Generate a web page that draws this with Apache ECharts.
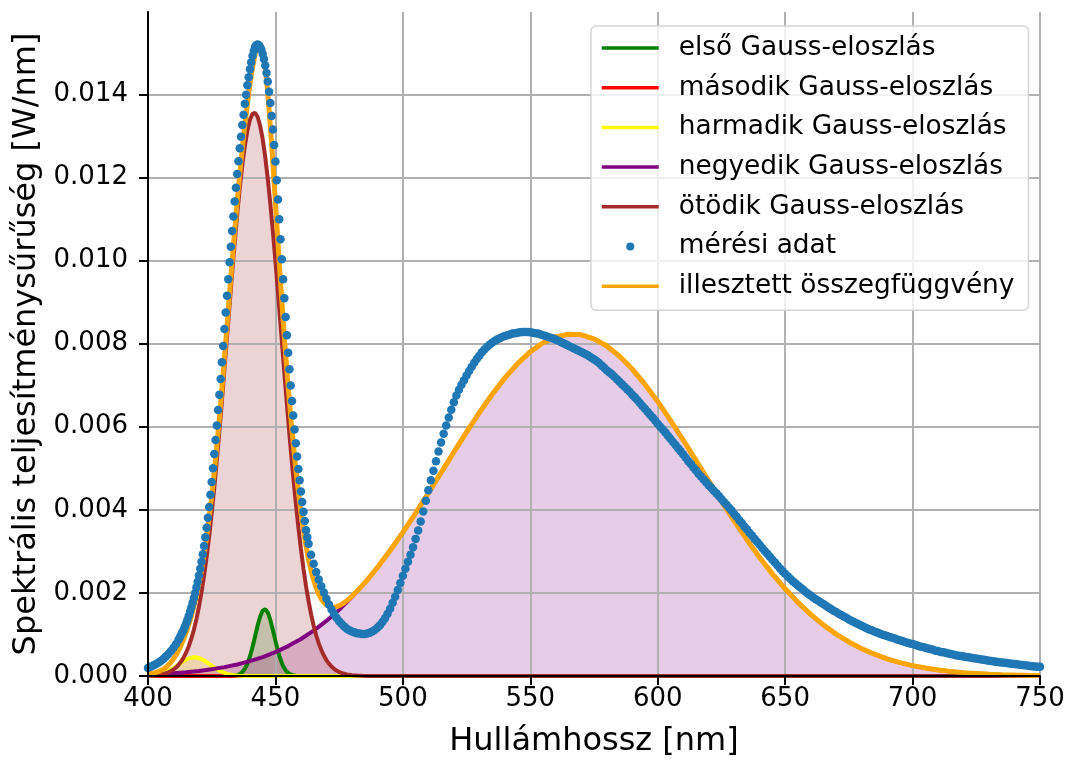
<!DOCTYPE html>
<html><head><meta charset="utf-8">
<script src="https://cdn.jsdelivr.net/npm/echarts@6/dist/echarts.min.js"></script>
<style>html,body{margin:0;padding:0;background:#fff}#c{width:1070px;height:762px}</style>
</head><body><div id="c"></div>
<script>
const yTicks = [0, 0.002, 0.004, 0.006, 0.008, 0.010, 0.012, 0.014];
const seriesNames = ['első Gauss-eloszlás','második Gauss-eloszlás','harmadik Gauss-eloszlás','negyedik Gauss-eloszlás','ötödik Gauss-eloszlás','mérési adat','illesztett összegfüggvény'];

const gauss1 = [[400,0],[432,0.0000015],[433,0.000004],[434,0.00001],[435,0.0000227],[436,0.0000482],[437,0.0000952],[438,0.0001745],[439,0.0002974],[440,0.000471],[441,0.000694],[442,0.00095],[443,0.001209],[444,0.00143],[445,0.001573],[446,0.001608],[447,0.001528],[448,0.001349],[449,0.001108],[450,0.000845],[451,0.0006],[452,0.000395],[453,0.000243],[454,0.000138],[455,0.0000732],[456,0.000036],[457,0.0000165],[458,0.000007],[460,0.000001],[750,0]];

const gauss2 = [[400,0],[750,0]];

const gauss3 = [[400,0.0000061],[401,0.0000096],[402,0.0000148],[403,0.0000223],[404,0.0000327],[405,0.0000467],[406,0.000065],[407,0.0000881],[408,0.0001163],[409,0.0001497],[410,0.0001877],[411,0.0002293],[412,0.000273],[413,0.0003166],[414,0.0003578],[415,0.0003939],[416,0.0004226],[417,0.0004417],[418,0.0004498],[419,0.0004463],[420,0.0004314],[421,0.0004064],[422,0.000373],[423,0.0003335],[424,0.0002906],[425,0.0002466],[426,0.000204],[427,0.0001644],[428,0.0001291],[429,0.0000987],[430,0.0000736],[431,0.0000535],[432,0.0000378],[433,0.0000261],[434,0.0000175],[435,0.0000115],[436,0.0000073],[438,0.0000027],[440,0.0000009],[445,0],[750,0]];

const gauss4 = [[400,0.0000359],[405,0.0000495],[410,0.0000676],[415,0.0000914],[420,0.0001225],[425,0.0001624],[430,0.0002132],[435,0.0002774],[440,0.0003572],[445,0.0004556],[450,0.000575],[455,0.0007197],[460,0.0008905],[465,0.0010922],[470,0.0013258],[475,0.001595],[480,0.0018978],[485,0.0022386],[490,0.002613],[495,0.00302],[500,0.003458],[505,0.003921],[510,0.004401],[515,0.004893],[520,0.005387],[525,0.005871],[530,0.006338],[535,0.006775],[540,0.007172],[545,0.007517],[550,0.007802],[555,0.008019],[560,0.008162],[565,0.008226],[570,0.00821],[575,0.008114],[580,0.007941],[585,0.007696],[590,0.007386],[595,0.007018],[600,0.006605],[605,0.006154],[610,0.005679],[615,0.005189],[620,0.004695],[625,0.004207],[630,0.003733],[635,0.00328],[640,0.002853],[645,0.002458],[650,0.002098],[655,0.001772],[660,0.001482],[665,0.001229],[670,0.001008],[675,0.000819],[680,0.000658],[685,0.000525],[690,0.000414],[695,0.000323],[700,0.00025],[705,0.000191],[710,0.000145],[715,0.000109],[720,0.000081],[725,0.00006],[730,0.000044],[735,0.000031],[740,0.000022],[745,0.000016],[750,0.000011]];

const gauss5 = [[400,0.0000059],[401,0.0000085],[402,0.0000122],[403,0.0000173],[404,0.0000243],[405,0.0000338],[406,0.0000467],[407,0.0000638],[408,0.0000866],[409,0.0001163],[410,0.0001549],[411,0.0002045],[412,0.0002674],[413,0.0003469],[414,0.000446],[415,0.000568],[416,0.000717],[417,0.000898],[418,0.001113],[419,0.001369],[420,0.001668],[421,0.002015],[422,0.002411],[423,0.00286],[424,0.003364],[425,0.00392],[426,0.004528],[427,0.005183],[428,0.005881],[429,0.006615],[430,0.007373],[431,0.008146],[432,0.008921],[433,0.009682],[434,0.010415],[435,0.011104],[436,0.011735],[437,0.012291],[438,0.012759],[439,0.013127],[440,0.013387],[441,0.01353],[442,0.013555],[443,0.013458],[444,0.013244],[445,0.012919],[446,0.012489],[447,0.011967],[448,0.011364],[449,0.010696],[450,0.009979],[451,0.009228],[452,0.008456],[453,0.007682],[454,0.006916],[455,0.006171],[456,0.005458],[457,0.004784],[458,0.004156],[459,0.00358],[460,0.003055],[461,0.002585],[462,0.002167],[463,0.001801],[464,0.001483],[465,0.001211],[466,0.000979],[467,0.000785],[468,0.000625],[469,0.000492],[470,0.000384],[471,0.000297],[472,0.000228],[473,0.000173],[474,0.000131],[475,0.0000975],[476,0.0000722],[477,0.0000529],[478,0.0000385],[479,0.0000277],[480,0.0000198],[482,0.0000099],[484,0.0000047],[486,0.0000022],[490,0.0000005],[750,0]];

const measured = [[400,0.00019],[401,0.00022],[402,0.00025],[403,0.00028],[404,0.00032],[405,0.00036],[406,0.00041],[407,0.00047],[408,0.00053],[409,0.0006],[410,0.00068],[411,0.00077],[412,0.00087],[412.5,0.00093],[413,0.00099],[413.5,0.00105],[414,0.00112],[414.5,0.00119],[415,0.00127],[415.5,0.00136],[416,0.00145],[416.5,0.00155],[417,0.00165],[417.5,0.00176],[418,0.00188],[418.5,0.002],[419,0.00213],[419.5,0.00227],[420,0.00242],[420.5,0.00258],[421,0.00275],[421.5,0.00293],[422,0.00313],[422.5,0.00334],[423,0.00357],[423.5,0.00381],[424,0.00407],[424.5,0.00436],[425,0.00467],[425.5,0.005],[426,0.00534],[426.5,0.00568],[427,0.00603],[427.5,0.0064],[428,0.00677],[428.5,0.00715],[429,0.00755],[429.5,0.00794],[430,0.00835],[430.5,0.00875],[431,0.00915],[431.5,0.00955],[432,0.00996],[432.5,0.01033],[433,0.01071],[433.5,0.01106],[434,0.01142],[434.5,0.01175],[435,0.01208],[435.5,0.01239],[436,0.0127],[436.5,0.01298],[437,0.01326],[437.5,0.01351],[438,0.01377],[438.5,0.01399],[439,0.01422],[439.5,0.01441],[440,0.0146],[440.5,0.01477],[441,0.01492],[441.5,0.01504],[442,0.01513],[442.5,0.01518],[443,0.0152],[443.5,0.01518],[444,0.01514],[444.5,0.01507],[445,0.01497],[445.5,0.01485],[446,0.01469],[446.5,0.01451],[447,0.01431],[447.5,0.01406],[448,0.01379],[448.5,0.01348],[449,0.01315],[449.5,0.01278],[450,0.01238],[450.5,0.01193],[451,0.01147],[451.5,0.01099],[452,0.01051],[452.5,0.01003],[453,0.00955],[453.5,0.00909],[454,0.00864],[454.5,0.0082],[455,0.00778],[455.5,0.00738],[456,0.00699],[456.5,0.00662],[457,0.00627],[457.5,0.00593],[458,0.0056],[458.5,0.00528],[459,0.00498],[459.5,0.00471],[460,0.00444],[460.5,0.00419],[461,0.00395],[461.5,0.00373],[462,0.00351],[462.5,0.00334],[463,0.00318],[464,0.00292],[465,0.0027],[466,0.0025],[467,0.00232],[468,0.00216],[469,0.00201],[470,0.00186],[471,0.00172],[472,0.0016],[473,0.00149],[474,0.0014],[475,0.00132],[476,0.00125],[477,0.00119],[478,0.00114],[479,0.0011],[480,0.00107],[481,0.00105],[482,0.00103],[483,0.00102],[484,0.00101],[485,0.00101],[486,0.00102],[487,0.00104],[488,0.00107],[489,0.00111],[490,0.00116],[491,0.00122],[492,0.0013],[493,0.00139],[494,0.0015],[495,0.00162],[496,0.00176],[497,0.00191],[498,0.00207],[499,0.00224],[500,0.00241],[501,0.00258],[502,0.00275],[503,0.00292],[504,0.0031],[505,0.0033],[506,0.0035],[507,0.00372],[508,0.00396],[509,0.00422],[510,0.00447],[511,0.00471],[512,0.00494],[513,0.00517],[514,0.0054],[515,0.00562],[516,0.00583],[517,0.00603],[518,0.00622],[519,0.00641],[520,0.00659],[521,0.00675],[522,0.00689],[523,0.00701],[524,0.00712],[525,0.00723],[526,0.00734],[527,0.00744],[528,0.00754],[529,0.00763],[530,0.00771],[531,0.00779],[532,0.00786],[533,0.00792],[534,0.00797],[535,0.00802],[536,0.00806],[537,0.0081],[538,0.00813],[539,0.00816],[540,0.00818],[541,0.0082],[542,0.00822],[543,0.00824],[544,0.00825],[545,0.00826],[546,0.00827],[547,0.00828],[548,0.00828],[549,0.00828],[550,0.00827],[551,0.00826],[552,0.00825],[553,0.00824],[554,0.00822],[555,0.0082],[556,0.00818],[557,0.00816],[558,0.00814],[559,0.00812],[560,0.00809],[561,0.00807],[562,0.00804],[563,0.00801],[564,0.00798],[565,0.00795],[566,0.00792],[567,0.00789],[568,0.00786],[569,0.00783],[570,0.0078],[571,0.00777],[572,0.00774],[573,0.0077],[574,0.00766],[575,0.00762],[576,0.00758],[577,0.00753],[578,0.00747],[579,0.00742],[580,0.00736],[581,0.00731],[582,0.00726],[583,0.0072],[584,0.00714],[585,0.00708],[586,0.00702],[587,0.00696],[588,0.0069],[589,0.00684],[590,0.00677],[591,0.00671],[592,0.00664],[593,0.00657],[594,0.0065],[595,0.00643],[596,0.00636],[597,0.00629],[598,0.00622],[599,0.00615],[600,0.00607],[601,0.006],[602,0.00593],[603,0.00586],[604,0.00578],[605,0.00571],[606,0.00563],[607,0.00556],[608,0.00548],[609,0.00541],[610,0.00533],[611,0.00525],[612,0.00517],[613,0.0051],[614,0.00502],[615,0.00495],[616,0.00487],[617,0.0048],[618,0.00473],[619,0.00466],[620,0.00459],[621,0.00453],[622,0.00446],[623,0.0044],[624,0.00433],[625,0.00426],[626,0.00419],[627,0.00412],[628,0.00405],[629,0.00398],[630,0.0039],[631,0.00383],[632,0.00375],[633,0.00368],[634,0.0036],[635,0.00353],[636,0.00345],[637,0.00338],[638,0.0033],[639,0.00323],[640,0.00316],[641,0.00308],[642,0.00301],[643,0.00294],[644,0.00287],[645,0.0028],[646,0.00273],[647,0.00266],[648,0.00259],[649,0.00252],[650,0.00246],[651,0.0024],[652,0.00234],[653,0.00228],[654,0.00223],[655,0.00218],[656,0.00213],[657,0.00208],[658,0.00203],[659,0.00198],[660,0.00194],[661,0.00189],[662,0.00185],[663,0.00181],[664,0.00177],[665,0.00173],[666,0.00169],[667,0.00165],[668,0.00161],[669,0.00157],[670,0.00154],[671,0.0015],[672,0.00147],[673,0.00143],[674,0.0014],[675,0.00136],[676,0.00133],[677,0.0013],[678,0.00127],[679,0.00124],[680,0.00121],[681,0.00118],[682,0.00115],[683,0.00112],[684,0.0011],[685,0.00107],[686,0.00105],[687,0.00102],[688,0.001],[689,0.00098],[690,0.00096],[691,0.00094],[692,0.00092],[693,0.0009],[694,0.00088],[695,0.00086],[696,0.00084],[697,0.00082],[698,0.0008],[699,0.00078],[700,0.00077],[701,0.00075],[702,0.00073],[703,0.00071],[704,0.0007],[705,0.00068],[706,0.00066],[707,0.00065],[708,0.00063],[709,0.00061],[710,0.0006],[711,0.00058],[712,0.00057],[713,0.00056],[714,0.00054],[715,0.00053],[716,0.00052],[717,0.0005],[718,0.00049],[719,0.00048],[720,0.00047],[721,0.00046],[722,0.00045],[723,0.00044],[724,0.00043],[725,0.00042],[726,0.00041],[727,0.0004],[728,0.00039],[729,0.00038],[730,0.00037],[731,0.00036],[732,0.00035],[733,0.00034],[734,0.00033],[735,0.000325],[736,0.00032],[737,0.00031],[738,0.0003],[739,0.000295],[740,0.00029],[741,0.00028],[742,0.00027],[743,0.000265],[744,0.00026],[745,0.00025],[746,0.00024],[747,0.000235],[748,0.00023],[749,0.000225],[750,0.00022]];

const fitted = [[400,0.0000479],[401,0.0000564],[402,0.0000679],[403,0.0000832],[404,0.0001035],[405,0.00013],[406,0.0001644],[407,0.000208],[408,0.0002627],[409,0.0003296],[410,0.0004102],[411,0.0005057],[412,0.0006168],[413,0.0007446],[414,0.0008899],[415,0.0010533],[416,0.0012366],[417,0.0014426],[418,0.0016718],[419,0.0019309],[420,0.0022219],[421,0.002551],[422,0.002921],[423,0.003339],[424,0.003808],[425,0.004329],[426,0.004904],[427,0.005529],[428,0.006202],[429,0.006916],[430,0.00766],[431,0.008424],[432,0.009197],[433,0.009962],[434,0.010706],[435,0.011416],[436,0.012083],[437,0.012698],[438,0.013259],[439,0.013766],[440,0.01425],[441,0.01463],[442,0.01497],[443,0.01518],[444,0.01519],[445,0.01503],[446,0.01465],[447,0.01403],[448,0.013238],[449,0.012353],[450,0.011399],[451,0.01043],[452,0.009481],[453,0.008583],[454,0.007743],[455,0.006964],[456,0.006245],[457,0.005585],[458,0.004982],[459,0.004437],[460,0.003947],[461,0.003514],[462,0.003134],[463,0.002809],[464,0.002532],[465,0.002303],[466,0.002116],[467,0.001967],[468,0.001854],[469,0.001768],[470,0.00171],[471,0.001674],[472,0.001657],[473,0.001656],[474,0.001669],[475,0.001693],[476,0.001724],[477,0.001765],[478,0.00181],[479,0.001862],[480,0.001918],[481,0.001978],[482,0.002039],[483,0.002105],[484,0.002173],[485,0.002242],[486,0.002313],[487,0.002386],[488,0.00246],[489,0.002535],[490,0.002613],[495,0.00302],[500,0.003458],[505,0.003921],[510,0.004401],[515,0.004893],[520,0.005387],[525,0.005871],[530,0.006338],[535,0.006775],[540,0.007172],[545,0.007517],[550,0.007802],[555,0.008019],[560,0.008162],[565,0.008226],[570,0.00821],[575,0.008114],[580,0.007941],[585,0.007696],[590,0.007386],[595,0.007018],[600,0.006605],[605,0.006154],[610,0.005679],[615,0.005189],[620,0.004695],[625,0.004207],[630,0.003733],[635,0.00328],[640,0.002853],[645,0.002458],[650,0.002098],[655,0.001772],[660,0.001482],[665,0.001229],[670,0.001008],[675,0.000819],[680,0.000658],[685,0.000525],[690,0.000414],[695,0.000323],[700,0.00025],[705,0.000191],[710,0.000145],[715,0.000109],[720,0.000081],[725,0.00006],[730,0.000044],[735,0.000031],[740,0.000022],[745,0.000016],[750,0.000011]];

const F = 'DejaVu Sans';
const gaussList = [gauss1, gauss2, gauss3, gauss4, gauss5];
const lineColors = ['#008000', '#ff0000', '#ffff00', '#800080', '#a52a2a'];
const fillColors = ['rgba(0,128,0,0.2)', 'rgba(255,0,0,0.2)', 'rgba(255,255,0,0.2)', 'rgba(128,0,128,0.2)', 'rgba(165,42,42,0.2)'];

const series = [];
gaussList.forEach((d, i) => {
  series.push({
    name: 'fill' + i, type: 'line', data: d, z: 0, silent: true,
    symbol: 'none', showSymbol: false,
    lineStyle: { width: 0, opacity: 0 },
    areaStyle: { color: fillColors[i], opacity: 1 }
  });
});
gaussList.forEach((d, i) => {
  series.push({
    name: seriesNames[i], type: 'line', data: d, z: 2,
    symbol: 'none', showSymbol: false,
    itemStyle: { color: lineColors[i] },
    lineStyle: { color: lineColors[i], width: 4 }
  });
});
series.push({
  name: seriesNames[5], type: 'scatter', data: measured, z: 2,
  symbol: 'circle', symbolSize: 8.5,
  itemStyle: { color: '#1f77b4', opacity: 1 }
});
series.push({
  name: seriesNames[6], type: 'line', data: fitted, z: 2,
  symbol: 'none', showSymbol: false,
  itemStyle: { color: '#ffa500' },
  lineStyle: { color: '#ffa500', width: 5 }
});

const legendData = seriesNames.map((n, i) => i === 5 ? { name: n } : { name: n, itemStyle: { opacity: 0 } });

const chart = echarts.init(document.getElementById('c'), null, { renderer: 'canvas' });
chart.setOption({
  animation: false,
  backgroundColor: '#ffffff',
  textStyle: { fontFamily: F },
  grid: { left: 148, right: 30, top: 12, bottom: 86, containLabel: false, outerBoundsMode: 'none' },
  legend: {
    data: legendData, orient: 'vertical', left: 591, top: 26,
    selectedMode: false,
    itemWidth: 57, itemHeight: 8, itemGap: 13.7,
    padding: [9, 14, 11, 9],
    backgroundColor: 'rgba(255,255,255,0.8)',
    borderColor: '#d6d6d6', borderWidth: 1.5, borderRadius: 5,
    lineStyle: { width: 3.5 },
    textStyle: { color: '#000', fontSize: 26.4, fontFamily: F, lineHeight: 26, padding: [0, 0, 0, 15] },
    z: 10
  },
  xAxis: [
    {
      type: 'value', min: 400, max: 750, interval: 50, z: 3,
      axisLine: { show: true, onZero: false, lineStyle: { color: '#000', width: 2 } },
      axisTick: { show: true, length: 9, lineStyle: { color: '#000', width: 2 } },
      axisLabel: { color: '#000', fontSize: 26, fontFamily: F, margin: 10 },
      splitLine: { show: false },
      name: 'Hullámhossz [nm]', nameLocation: 'middle', nameGap: 50,
      nameTextStyle: { color: '#000', fontSize: 32, fontFamily: F }
    },
    {
      type: 'value', min: 400, max: 750, interval: 50, z: 1, position: 'bottom',
      axisLine: { show: false }, axisTick: { show: false }, axisLabel: { show: false },
      splitLine: { show: true, lineStyle: { color: '#b0b0b0', width: 2 } }
    }
  ],
  yAxis: [
    {
      type: 'value', min: 0, max: 0.01598, interval: 0.002, z: 3,
      axisLine: { show: true, onZero: false, lineStyle: { color: '#000', width: 2 } },
      axisTick: { show: true, length: 9, customValues: yTicks, lineStyle: { color: '#000', width: 2 } },
      axisLabel: { color: '#000', fontSize: 26, fontFamily: F, margin: 20, customValues: yTicks,
        formatter: v => v.toFixed(3) },
      splitLine: { show: false },
      name: 'Spektrális teljesítménysűrűség [W/nm]', nameLocation: 'middle', nameGap: 105,
      nameTextStyle: { color: '#000', fontSize: 32, fontFamily: F }
    },
    {
      type: 'value', min: 0, max: 0.01598, interval: 0.002, z: 1,
      axisLine: { show: false }, axisTick: { show: false }, axisLabel: { show: false },
      splitLine: { show: true, showMaxLine: false, lineStyle: { color: '#b0b0b0', width: 2 } }
    }
  ],
  series: series
});
</script>
</body></html>
